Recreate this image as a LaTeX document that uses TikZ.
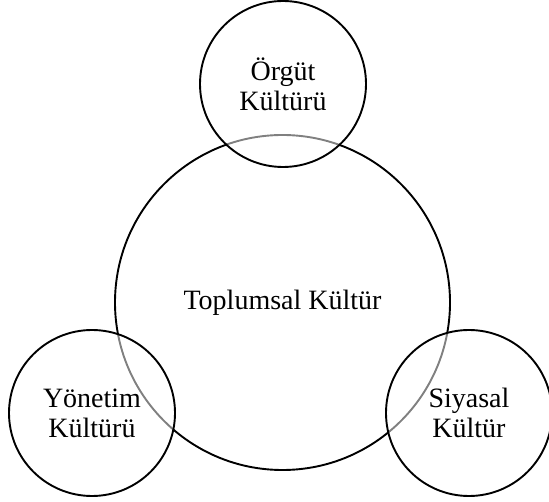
\documentclass[tikz,border=0pt]{standalone}
\usepackage{fontspec}
\setmainfont{Liberation Serif}

\begin{document}
\begin{tikzpicture}[x=1pt,y=-1pt,line width=1.9pt,
  kultur/.style={circle,draw=black,align=center,inner sep=0pt,
    font=\fontsize{28}{30}\selectfont},
  alt/.style={kultur,minimum size=166pt,fill=white,fill opacity=0.5,text opacity=1}]
  \useasboundingbox (0,0) rectangle (549,502);
  % toplumsal kultur: buyuk daire
  \node[kultur,minimum size=335pt] (toplum) at (282.5,302.5) {Toplumsal Kültür};
  % alt kulturler: ustte, sol altta, sag altta
  \node[alt] (orgut) at (283,84) {Örgüt\\Kültürü};
  \node[alt] (yonetim) at (92,413) {Yönetim\\Kültürü};
  \node[alt] (siyasal) at (469,413) {Siyasal\\Kültür};
\end{tikzpicture}
\end{document}
